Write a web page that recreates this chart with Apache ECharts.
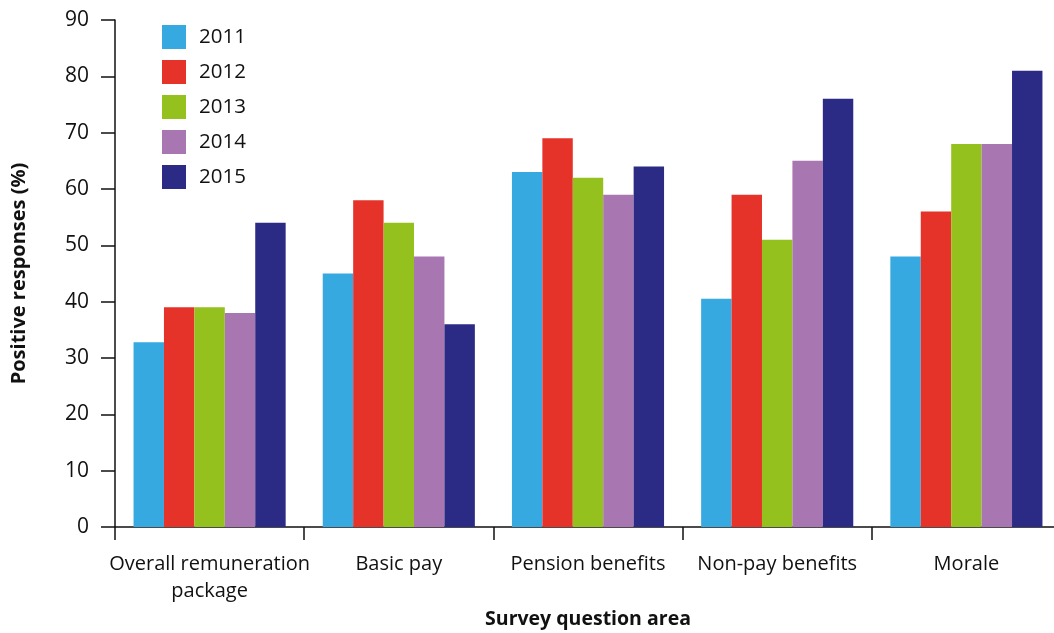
<!DOCTYPE html>
<html>
<head>
<meta charset="utf-8">
<script src="https://cdn.jsdelivr.net/npm/echarts@6/dist/echarts.min.js"></script>
<style>
  html, body { margin: 0; padding: 0; background: #fff; }
  #chart { width: 1054px; height: 633px; }
</style>
</head>
<body>
<div id="chart"></div>
<script>
// Survey areas along the x axis
const categories = ['Overall remuneration\npackage', 'Basic pay', 'Pension benefits', 'Non-pay benefits', 'Morale'];

// Positive responses (%) by year
const years = ['2011', '2012', '2013', '2014', '2015'];
const values2011 = [32.8, 45, 63, 40.5, 48];
const values2012 = [39, 58, 69, 59, 56];
const values2013 = [39, 54, 62, 51, 68];
const values2014 = [38, 48, 59, 65, 68];
const values2015 = [54, 36, 64, 76, 81];
const yearColors = ['#36a9e1', '#e6332a', '#95c11f', '#a877b2', '#2b2a84'];

const yTicks = { min: 0, max: 90, interval: 10 };
const fontFamily = '"Open Sans", "Noto Sans", sans-serif';

const seriesValues = [values2011, values2012, values2013, values2014, values2015];

const chart = echarts.init(document.getElementById('chart'), null, { renderer: 'canvas' });

chart.setOption({
  animation: false,
  textStyle: { fontFamily: fontFamily },
  color: yearColors,
  grid: { left: 115, right: -7, top: 20, bottom: 106, containLabel: false, outerBoundsMode: 'none' },
  legend: {
    orient: 'vertical',
    left: 157,
    top: 20,
    itemWidth: 24,
    itemHeight: 24,
    itemGap: 11,
    icon: 'rect',
    data: years,
    textStyle: { fontSize: 20.5, color: '#111', fontFamily: fontFamily, padding: [0, 0, 0, 8] }
  },
  xAxis: {
    type: 'category',
    data: categories,
    name: 'Survey question area',
    nameLocation: 'middle',
    nameGap: 82,
    nameTextStyle: { fontSize: 19.5, fontWeight: 'bold', color: '#111', fontFamily: fontFamily },
    axisLine: { lineStyle: { color: '#111', width: 1.5 } },
    axisTick: { show: true, interval: 0, length: 13, lineStyle: { color: '#111', width: 1.5 }, alignWithLabel: false },
    axisLabel: { interval: 0, fontSize: 20, color: '#111', margin: 24, lineHeight: 27, fontFamily: fontFamily }
  },
  yAxis: {
    type: 'value',
    min: yTicks.min,
    max: yTicks.max,
    interval: yTicks.interval,
    name: 'Positive responses (%)',
    nameLocation: 'middle',
    nameGap: 86,
    nameRotate: 90,
    nameTextStyle: { fontSize: 20, fontWeight: 'bold', color: '#111', fontFamily: fontFamily },
    splitLine: { show: false },
    axisLine: { show: true, lineStyle: { color: '#111', width: 1.5 } },
    axisTick: { show: true, inside: false, length: 14, lineStyle: { color: '#111', width: 1.5 } },
    axisLabel: { fontSize: 21, color: '#111', margin: 26, fontFamily: fontFamily }
  },
  series: years.map((y, i) => ({
    name: y,
    type: 'bar',
    data: seriesValues[i],
    barGap: '0%',
    barCategoryGap: '19.6%',
    itemStyle: { color: yearColors[i] }
  }))
});
</script>
</body>
</html>
